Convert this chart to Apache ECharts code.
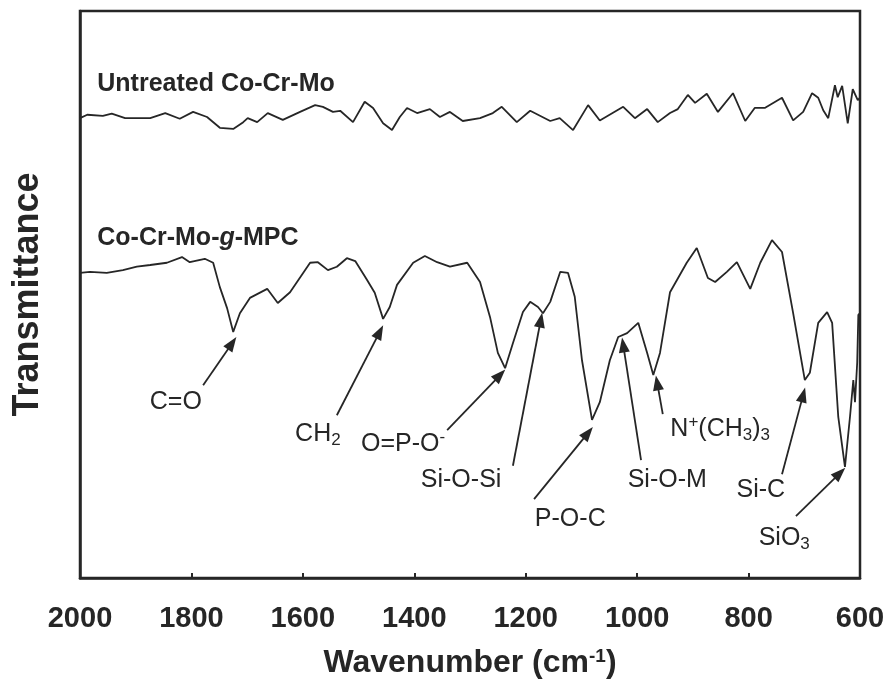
<!DOCTYPE html>
<html style="height: 100%">
<head>
    <meta charset="utf-8">
    <script src="https://cdn.jsdelivr.net/npm/echarts@6/dist/echarts.min.js"></script>
</head>
<body style="height: 100%; margin: 0; background: #fff">
    <div id="main" style="width: 891px; height: 696px"></div>
    <script type="text/javascript">
        // wavenumber (cm-1) and transmittance (a.u.)
        var untreatedWn = [2000, 1987, 1959, 1943, 1919, 1874, 1847, 1821, 1797, 1772, 1749, 1725, 1707, 1699, 1682,
            1663, 1636, 1605, 1578, 1564, 1546, 1533, 1510, 1489, 1474, 1456, 1440, 1426, 1413, 1395, 1372, 1354,
            1336, 1313, 1282, 1259, 1243, 1216, 1192, 1156, 1139, 1115, 1088, 1067, 1025, 1004, 982, 963, 941, 927,
            909, 896, 875, 855, 828, 806, 789, 771, 740, 720, 702, 686, 675, 666, 657, 645, 640, 632, 622, 613, 604, 600];
        var untreatedT = [81.1, 81.7, 81.5, 81.9, 81.1, 81.1, 82.0, 81.0, 82.2, 81.3, 79.4, 79.2, 80.4, 81.1, 80.4,
            82.0, 80.8, 82.2, 83.4, 83.1, 82.2, 82.4, 80.4, 84.0, 82.9, 80.2, 79.0, 81.3, 82.9, 82.0, 82.7, 81.3,
            82.2, 80.6, 81.1, 82.0, 83.1, 80.4, 82.4, 80.6, 81.1, 79.0, 83.4, 80.7, 83.1, 81.1, 82.7, 80.4, 82.0, 82.7,
            85.2, 83.8, 85.4, 82.2, 85.5, 80.6, 82.9, 82.9, 84.7, 80.7, 82.2, 85.5, 84.7, 82.5, 81.1, 86.9, 84.8, 86.8, 80.2, 86.2, 84.3, 84.7];

        var mpcWn = [2000, 1982, 1952, 1923, 1898, 1874, 1844, 1817, 1803, 1776, 1761, 1749, 1736, 1725, 1713, 1695,
            1664, 1645, 1623, 1587, 1573, 1555, 1539, 1521, 1506, 1485, 1471, 1456, 1444, 1431, 1402, 1381, 1359,
            1336, 1305, 1282, 1264, 1250, 1237, 1223, 1205, 1192, 1178, 1169, 1156, 1138, 1124, 1112, 1099, 1081,
            1067, 1049, 1034, 1018, 998, 982, 971, 959, 941, 911, 893, 873, 860, 839, 821, 797, 779, 758, 740, 720,
            699, 690, 675, 659, 650, 639, 627, 618, 612, 609, 605, 603, 600];
        var mpcT = [53.8, 54.0, 53.8, 54.3, 54.9, 55.2, 55.6, 56.6, 55.7, 56.3, 55.6, 51.3, 47.6, 43.4, 46.7, 49.4,
            51.0, 48.5, 50.4, 55.6, 55.7, 54.3, 54.9, 56.4, 55.9, 52.6, 50.3, 45.7, 47.8, 51.7, 55.6, 56.8, 55.7,
            54.9, 55.6, 52.2, 46.0, 39.7, 37.0, 41.4, 46.9, 48.7, 47.8, 46.7, 48.7, 54.0, 53.8, 49.6, 38.4, 27.9,
            31.0, 38.4, 42.5, 43.2, 45.0, 39.7, 35.8, 39.7, 50.4, 55.6, 58.2, 52.9, 52.2, 54.0, 55.7, 51.0, 55.6, 59.6, 57.5, 46.7,
            34.9, 36.2, 45.0, 46.9, 45.0, 28.4, 19.6, 28.4, 34.9, 31.0, 38.0, 46.4, 46.7];

        // peak assignments: label text, label position, arrow tail, arrow head (data units)
        var peakLabels = ['C=O', 'CH{sub|2}', 'O=P-O{sup|-}', 'Si-O-Si', 'P-O-C', 'Si-O-M', 'N{sup|+}(CH{sub|3}){sub|3}', 'Si-C', 'SiO{sub|3}'];
        var labelPos = [[1828, 31.0], [1573, 25.4], [1420, 23.6], [1316, 17.3], [1120, 10.4], [946, 17.3], [851, 26.3], [778, 15.5], [736, 7.0]];
        var arrowTail = [[1779, 34.0], [1539, 28.7], [1341, 26.1], [1223, 19.8], [1185, 13.9], [993, 20.8], [954, 28.9], [740, 18.3], [715, 10.9]];
        var arrowHead = [[1727, 41.4], [1462, 43.4], [1246, 35.8], [1173, 45.5], [1088, 25.6], [1025, 41.1], [964, 34.4], [702, 32.3], [636, 18.5]];

        var seriesNames = ['Untreated Co-Cr-Mo', 'Co-Cr-Mo-{it|g}-MPC'];
        var seriesNamePos = [[1969, 87.1], [1969, 60.0]];

        function zip(a, b) {
            return a.map(function (v, i) { return [v, b[i]]; });
        }

        var ink = '#262626';
        var font = 'Liberation Sans, Arial, sans-serif';
        var richSub = {
            sub: { fontSize: 17, fontFamily: font, color: ink, verticalAlign: 'bottom', padding: [10, 0, 0, 0] },
            sup: { fontSize: 17, fontFamily: font, color: ink, verticalAlign: 'top', padding: [0, 0, 10, 0] },
            it: { fontSize: 25, fontWeight: 'bold', fontStyle: 'italic', fontFamily: font, color: ink }
        };

        var chartDom = document.getElementById('main');
        var myChart = echarts.init(chartDom);

        var annotations = labelPos.map(function (p, i) {
            return {
                value: p,
                label: { formatter: peakLabels[i] }
            };
        });
        var nameMarks = seriesNamePos.map(function (p, i) {
            return {
                value: p,
                label: { formatter: seriesNames[i], align: 'left', fontSize: 25, fontWeight: 'bold' }
            };
        });
        var arrows = arrowTail.map(function (t, i) {
            return [{ coord: t }, { coord: arrowHead[i] }];
        });

        var option = {
            animation: false,
            grid: {
                left: 80,
                right: 31,
                top: 11,
                bottom: 118,
                show: true,
                borderColor: ink,
                borderWidth: 2.5
            },
            xAxis: {
                type: 'value',
                inverse: true,
                min: 600,
                max: 2000,
                interval: 200,
                name: 'Wavenumber (cm{sup|-1})',
                nameLocation: 'middle',
                nameGap: 69,
                nameTextStyle: {
                    fontFamily: font,
                    fontSize: 32,
                    fontWeight: 'bold',
                    color: ink,
                    rich: {
                        sup: { fontSize: 19, fontWeight: 'bold', fontFamily: font, color: ink, verticalAlign: 'top', padding: [0, 0, 14, 0] }
                    }
                },
                axisLine: { lineStyle: { color: ink, width: 2.5 } },
                axisTick: { inside: true, length: 5, lineStyle: { color: ink, width: 2 } },
                axisLabel: {
                    margin: 26,
                    fontFamily: font,
                    fontSize: 29,
                    fontWeight: 'bold',
                    color: ink,
                    formatter: function (v) { return String(v); }
                },
                splitLine: { show: false }
            },
            yAxis: {
                type: 'value',
                min: 0,
                max: 100,
                name: 'Transmittance',
                nameLocation: 'middle',
                nameGap: 34,
                nameRotate: 90,
                nameTextStyle: {
                    fontFamily: font,
                    fontSize: 36,
                    fontWeight: 'bold',
                    color: ink
                },
                axisLine: { show: true, lineStyle: { color: ink, width: 2.5 } },
                axisTick: { show: false },
                axisLabel: { show: false },
                splitLine: { show: false }
            },
            series: [
                {
                    name: 'Untreated Co-Cr-Mo',
                    type: 'line',
                    data: zip(untreatedWn, untreatedT),
                    showSymbol: false,
                    lineStyle: { color: ink, width: 1.8 }
                },
                {
                    name: 'Co-Cr-Mo-g-MPC',
                    type: 'line',
                    data: zip(mpcWn, mpcT),
                    showSymbol: false,
                    lineStyle: { color: ink, width: 1.8 },
                    markLine: {
                        silent: true,
                        symbol: ['none', 'triangle'],
                        symbolSize: [11, 15],
                        label: { show: false },
                        lineStyle: { color: ink, width: 1.8, type: 'solid' },
                        emphasis: { disabled: true },
                        data: arrows
                    }
                },
                {
                    name: 'labels',
                    type: 'scatter',
                    symbolSize: 0,
                    silent: true,
                    itemStyle: { opacity: 1, color: 'transparent' },
                    data: annotations.concat(nameMarks),
                    label: {
                        show: true,
                        position: 'inside',
                        fontFamily: font,
                        fontSize: 25,
                        color: ink,
                        opacity: 1,
                        textBorderWidth: 0,
                        textBorderColor: 'transparent',
                        lineHeight: 30,
                        rich: richSub
                    }
                }
            ]
        };
        myChart.setOption(option);
    </script>
</body>
</html>
